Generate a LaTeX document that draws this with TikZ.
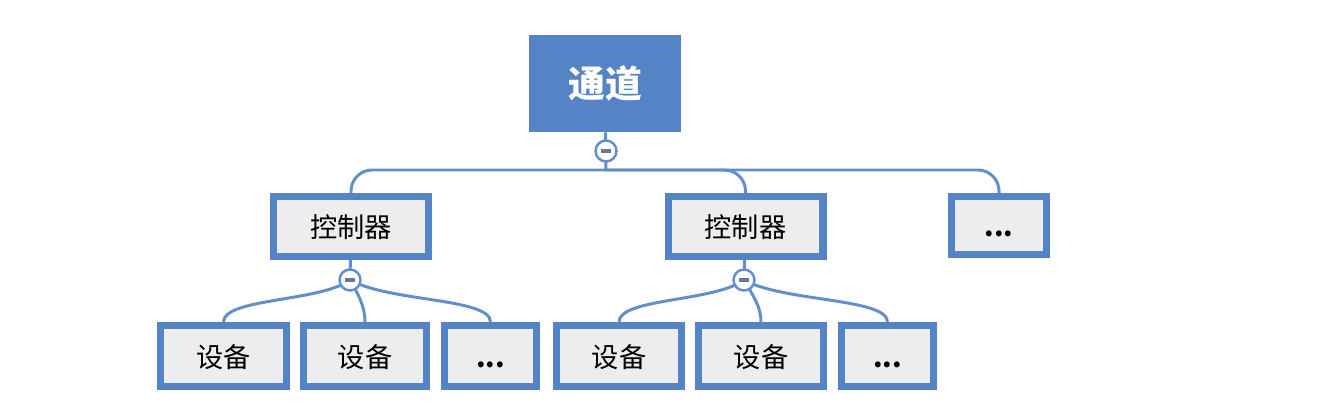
\documentclass[tikz,border=0pt]{standalone}
\usepackage{fontspec}
\setmainfont{Noto Sans CJK SC}
\usetikzlibrary{positioning}

\definecolor{boxblue}{RGB}{84,132,198}
\definecolor{linkblue}{RGB}{98,143,204}
\definecolor{boxgray}{RGB}{237,237,237}
\definecolor{minusgray}{RGB}{105,120,148}

\begin{document}
\begin{tikzpicture}[x=0.02cm, y=-0.02cm]
	\tikzstyle{root} = [rectangle, fill=boxblue, text=white, minimum width=3.04cm, minimum height=1.94cm, font=\fontsize{21}{24}\selectfont\bfseries]
	\tikzstyle{unit} = [rectangle, draw=boxblue, line width=4pt, fill=boxgray, minimum height=1.2cm, inner sep=0pt,
		text height=1.3em, text depth=0em, font=\fontsize{15.5}{18}\selectfont]
	\tikzstyle{hub} = [circle, draw=linkblue, line width=1.4pt, fill=white, minimum size=0.42cm, inner sep=0pt,
		path picture={\draw[minusgray, line width=1.8pt] ([xshift=-0.1cm]path picture bounding box.center) -- ([xshift=0.1cm]path picture bounding box.center);}]
	\tikzstyle{link} = [draw=linkblue, line width=1.7pt]

	\useasboundingbox (0,0) rectangle (1322,405);

	% channel
	\node[root] (channel) at (605,83.5) {通道};
	\coordinate (hub-0) at (606,151);
	\coordinate (bus) at (606,170);

	% controllers
	\node[unit, minimum width=3.1cm] (ctrl-1) at (351,226.5) {控制器};
	\node[unit, minimum width=3.1cm] (ctrl-2) at (745.5,226.5) {控制器};
	\node[unit, minimum width=1.9cm, minimum height=1.16cm] (ctrl-3) at (999,225.5) {\textbf{...}};
	\coordinate (hub-1) at (350,280);
	\coordinate (hub-2) at (744,280);

	% devices
	\node[unit, minimum width=2.52cm, minimum height=1.22cm] (dev-1-1) at (223.5,356) {设备};
	\node[unit, minimum width=2.46cm, minimum height=1.22cm] (dev-1-2) at (365,356) {设备};
	\node[unit, minimum width=1.84cm, minimum height=1.22cm] (dev-1-3) at (490.5,356) {\textbf{...}};
	\node[unit, minimum width=2.5cm, minimum height=1.22cm] (dev-2-1) at (619,356) {设备};
	\node[unit, minimum width=2.5cm, minimum height=1.22cm] (dev-2-2) at (761,356) {设备};
	\node[unit, minimum width=1.84cm, minimum height=1.22cm] (dev-2-3) at (887.5,356) {\textbf{...}};

	% channel-controller connections
	\path[link] (channel) -- (bus);
	\foreach \target in {1, ..., 3}
		\draw[link, rounded corners=12] (bus) -| (ctrl-\target.north);

	% controller-device connections
	\foreach \source in {1, 2} {
		\path[link] (ctrl-\source) -- (hub-\source);
		\draw[link] (hub-\source) .. controls +(-30,22) and +(0,-24) .. (dev-\source-1.north);
		\draw[link] (hub-\source) .. controls +(8,14) and +(0,-16) .. (dev-\source-2.north);
		\draw[link] (hub-\source) .. controls +(40,22) and +(0,-24) .. (dev-\source-3.north);
	}

	% collapse buttons
	\foreach \name in {0, 1, 2}
		\node[hub] at (hub-\name) {};
\end{tikzpicture}
\end{document}
